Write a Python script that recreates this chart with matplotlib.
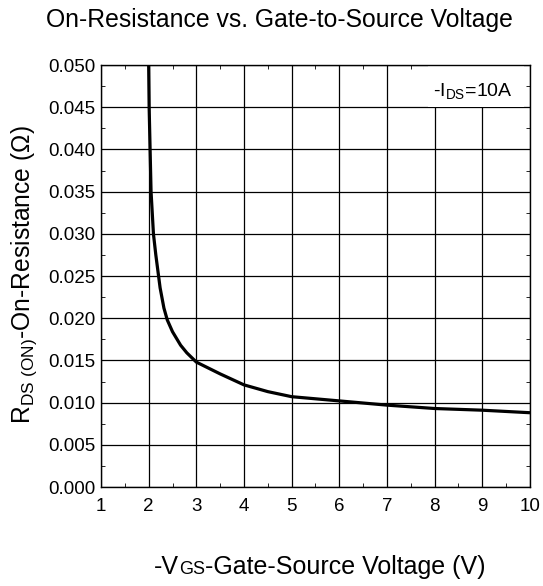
import numpy as np
import matplotlib.pyplot as plt
from matplotlib.patches import Rectangle
from matplotlib.ticker import MultipleLocator, FormatStrFormatter

plt.rcParams['font.family'] = ['Liberation Sans', 'DejaVu Sans']

# curve
vgs = [2.0, 2.01, 2.03, 2.05, 2.1, 2.15, 2.24, 2.32, 2.39, 2.5, 2.67, 2.8, 3.0,
       3.5, 4.0, 4.5, 5.0, 6.0, 7.0, 8.0, 9.0, 10.0]
rds = [0.050, 0.045, 0.040, 0.035, 0.030, 0.0275, 0.0236, 0.0212, 0.0198, 0.0184,
       0.0168, 0.0159, 0.0148, 0.0134, 0.0121, 0.0113, 0.0107, 0.0102,
       0.0097, 0.0093, 0.0091, 0.0088]

W, H = 543, 586
fig = plt.figure(figsize=(W / 100, H / 100), dpi=100)
ax = fig.add_axes([101 / W, 1 - 487 / H, 429 / W, 422 / H])

ax.plot(vgs, rds, color='black', lw=2.3, solid_capstyle='butt', solid_joinstyle='round')

ax.set_xlim(1, 10)
ax.set_ylim(0, 0.05)
ax.xaxis.set_major_locator(MultipleLocator(1))
ax.xaxis.set_minor_locator(MultipleLocator(0.5))
ax.yaxis.set_major_locator(MultipleLocator(0.005))
ax.yaxis.set_minor_locator(MultipleLocator(0.0025))
ax.yaxis.set_major_formatter(FormatStrFormatter('%.3f'))
ax.grid(True, which='major', color='black', lw=0.9)
ax.tick_params(which='both', direction='in', top=True, right=True, labelsize=13.5, length=3)
ax.tick_params(which='major', length=0)
ax.tick_params(axis='x', pad=8)
ax.tick_params(axis='y', pad=4)
for s in ax.spines.values():
    s.set_linewidth(1.0)

# white corner box behind the current note
ax.add_patch(Rectangle((0.762, 0.9), 0.225, 0.1, transform=ax.transAxes,
                       facecolor='white', edgecolor='none', zorder=2.5))
ax.text(0.96, 0.925, '-I$_{\\mathregular{DS}}$=10A', transform=ax.transAxes,
        ha='right', va='baseline', fontsize=14, zorder=3)

fig.text(279 / W, 1 - 27 / H, 'On-Resistance vs. Gate-to-Source Voltage',
         ha='center', va='baseline', fontsize=17.8)

fig.text(24 / W, 1 - 275 / H, 'R$_{\\mathregular{DS\\ (ON)}}$-On-Resistance (Ω)',
         rotation=90, ha='center', va='center', fontsize=17.7)

# x label: "GS" is set smaller on the baseline, not as a subscript
parts = [('-V', 18), ('GS', 13), ('-Gate-Source Voltage (V)', 18)]
renderer = fig.canvas.get_renderer()
texts = [fig.text(0, 1 - 574 / H, s, fontsize=fs, va='baseline', ha='left') for s, fs in parts]
widths = [t.get_window_extent(renderer).width for t in texts]
x0 = 320 - sum(widths) / 2
for t, w in zip(texts, widths):
    t.set_x(x0 / W)
    x0 += w

fig.savefig('out.png', dpi=100)
